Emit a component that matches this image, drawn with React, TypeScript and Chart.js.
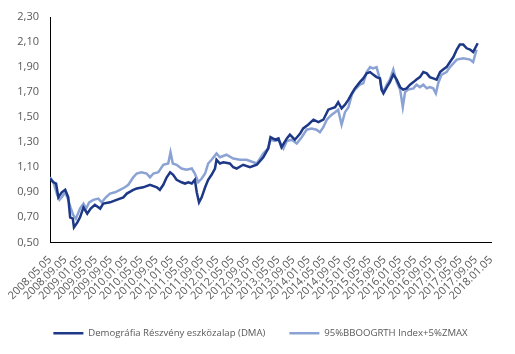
import React, { useEffect, useRef } from "react";
import { Chart, registerables } from "chart.js";

Chart.register(...registerables);

// Axis ticks: x values are months since 2008.05.05
const tickLabels = [
  "2008.05.05", "2008.09.05", "2009.01.05", "2009.05.05", "2009.09.05",
  "2010.01.05", "2010.05.05", "2010.09.05", "2011.01.05", "2011.05.05",
  "2011.09.05", "2012.01.05", "2012.05.05", "2012.09.05", "2013.01.05",
  "2013.05.05", "2013.09.05", "2014.01.05", "2014.05.05", "2014.09.05",
  "2015.01.05", "2015.05.05", "2015.09.05", "2016.01.05", "2016.05.05",
  "2016.09.05", "2017.01.05", "2017.05.05", "2017.09.05", "2018.01.05",
];
const tickStepMonths = 4;
const yTicks = [0.5, 0.7, 0.9, 1.1, 1.3, 1.5, 1.7, 1.9, 2.1, 2.3];

const seriesNames = [
  "Demográfia Részvény eszközalap (DMA)",
  "95%BBOOGRTH Index+5%ZMAX",
];

const dmaMonths = [
  0, 0.9, 1.6, 2.2, 3.1, 4.0, 4.8, 5.3, 6.0, 6.3, 7.2, 7.9, 8.8, 9.8, 10.7,
  11.8, 13.2, 14.0, 15.8, 17.5, 19.3, 20.2, 21.9, 22.8, 24.5, 26.3, 28.1,
  28.9, 29.8, 30.7, 31.6, 32.4, 33.3, 34.6, 35.5, 36.4, 37.3, 38.1, 38.6,
  39.2, 39.9, 40.8, 41.6, 42.5, 43.4, 43.8, 44.7, 45.6, 47.3, 48.2, 49.1,
  50.8, 52.6, 54.4, 56.1, 57.4, 58.0, 59.2, 60.1, 60.9, 62.3, 63.1, 64.4,
  65.8, 66.6, 67.9, 69.3, 70.6, 71.9, 73.2, 74.1, 75.0, 75.8, 76.7, 77.6,
  78.5, 79.4, 80.2, 81.5, 82.4, 83.3, 84.2, 85.0, 85.9, 86.8, 87.2, 87.7,
  88.6, 89.4, 90.3, 91.2, 92.1, 92.9, 93.8, 94.7, 95.6, 96.4, 97.3, 98.2,
  99.1, 99.9, 100.8, 101.7, 102.6, 103.4, 104.3, 105.2, 106.1, 107.0, 107.8,
  108.7, 109.6, 110.5, 111.3, 112.5,
];
const dmaValues = [
  1.01, 0.98, 0.97, 0.86, 0.9, 0.92, 0.86, 0.7, 0.69, 0.62, 0.66, 0.7, 0.78,
  0.73, 0.77, 0.8, 0.77, 0.81, 0.82, 0.84, 0.86, 0.89, 0.92, 0.93, 0.94,
  0.96, 0.94, 0.92, 0.96, 1.02, 1.06, 1.04, 1.0, 0.98, 0.97, 0.98, 0.97,
  1.0, 0.9, 0.82, 0.86, 0.94, 1.0, 1.04, 1.09, 1.16, 1.13, 1.14, 1.13, 1.1,
  1.09, 1.12, 1.1, 1.12, 1.18, 1.25, 1.34, 1.32, 1.33, 1.26, 1.33, 1.36,
  1.32, 1.37, 1.41, 1.44, 1.48, 1.46, 1.48, 1.56, 1.57, 1.58, 1.62, 1.57,
  1.6, 1.64, 1.69, 1.73, 1.78, 1.81, 1.85, 1.86, 1.84, 1.82, 1.81, 1.72,
  1.69, 1.74, 1.78, 1.84, 1.8, 1.74, 1.72, 1.73, 1.76, 1.78, 1.8, 1.82,
  1.86, 1.85, 1.82, 1.81, 1.8, 1.86, 1.88, 1.9, 1.94, 1.98, 2.04, 2.08,
  2.08, 2.05, 2.04, 2.02, 2.09,
];

const benchMonths = [
  0, 0.9, 1.9, 2.5, 3.1, 4.0, 4.8, 5.4, 6.1, 6.8, 7.9, 8.8, 9.5, 10.3, 11.4,
  12.7, 13.6, 14.7, 15.8, 17.1, 18.4, 19.7, 20.6, 21.9, 22.8, 24.1, 25.4,
  26.3, 27.2, 28.5, 29.8, 31.1, 31.7, 32.3, 33.3, 34.6, 35.9, 37.3, 38.1,
  39.0, 39.9, 40.8, 41.6, 42.5, 43.8, 44.7, 46.4, 48.2, 50.0, 51.7, 53.5,
  54.4, 56.1, 57.4, 58.0, 59.2, 60.1, 61.4, 62.3, 63.6, 64.9, 66.2, 67.5,
  68.8, 70.1, 71.0, 71.9, 72.8, 74.1, 75.0, 75.8, 76.7, 77.6, 78.5, 79.4,
  80.2, 81.5, 82.4, 83.3, 84.2, 85.0, 85.9, 86.8, 87.2, 87.7, 88.6, 89.4,
  90.3, 91.2, 92.1, 92.8, 93.4, 94.2, 95.6, 96.4, 97.3, 98.2, 99.1, 99.9,
  100.8, 101.5, 102.1, 103.0, 104.3, 105.2, 106.1, 107.0, 108.7, 110.5,
  111.3, 112.2,
];
const benchValues = [
  1.02, 0.98, 0.88, 0.84, 0.86, 0.9, 0.84, 0.78, 0.72, 0.69, 0.77, 0.81,
  0.77, 0.82, 0.84, 0.85, 0.82, 0.86, 0.89, 0.9, 0.92, 0.94, 0.96, 1.02,
  1.05, 1.06, 1.05, 1.02, 1.05, 1.06, 1.12, 1.13, 1.22, 1.13, 1.12, 1.09,
  1.08, 1.09, 1.05, 0.98, 1.01, 1.05, 1.13, 1.16, 1.21, 1.18, 1.2, 1.17,
  1.16, 1.16, 1.14, 1.13, 1.21, 1.25, 1.32, 1.31, 1.32, 1.25, 1.31, 1.32,
  1.29, 1.34, 1.4, 1.41, 1.4, 1.38, 1.42, 1.48, 1.52, 1.54, 1.56, 1.44,
  1.54, 1.58, 1.68, 1.72, 1.76, 1.77, 1.86, 1.9, 1.89, 1.9, 1.8, 1.74, 1.7,
  1.76, 1.8, 1.88, 1.78, 1.72, 1.58, 1.7, 1.72, 1.73, 1.76, 1.74, 1.76,
  1.73, 1.74, 1.73, 1.69, 1.77, 1.84, 1.86, 1.9, 1.93, 1.96, 1.97, 1.96,
  1.94, 2.04,
];

const FONT = "'Open Sans', 'Noto Sans', sans-serif";
const TEXT = "#595959";

const shiftLegend = {
  id: "shiftLegend",
  afterLayout(chart: any) {
    const lg = chart.legend;
    if (lg) {
      lg.left += 10;
      lg.right += 10;
    }
  },
};

export default function App() {
  const ref = useRef<HTMLCanvasElement>(null);

  useEffect(() => {
    document.body.style.margin = "0";
    const canvas = ref.current;
    if (!canvas) return;
    const chart = new Chart(canvas, {
      type: "line",
      data: {
        datasets: [
          {
            label: seriesNames[0],
            data: dmaMonths.map((m, i) => ({ x: m, y: dmaValues[i] })),
            borderColor: "#1c3886",
            backgroundColor: "#1c3886",
            borderWidth: 2.5,
            pointRadius: 0,
            tension: 0,
          },
          {
            label: seriesNames[1],
            data: benchMonths.map((m, i) => ({ x: m, y: benchValues[i] })),
            borderColor: "#8aa3d4",
            backgroundColor: "#8aa3d4",
            borderWidth: 2.5,
            pointRadius: 0,
            tension: 0,
          },
        ],
      },
      plugins: [shiftLegend],
      options: {
        responsive: false,
        animation: false,
        events: [],
        layout: { padding: { top: 17, left: 10, right: 24, bottom: 6 } },
        plugins: {
          tooltip: { enabled: false },
          legend: {
            position: "bottom",
            labels: {
              usePointStyle: true,
              pointStyle: "line",
              pointStyleWidth: 30,
              padding: 24,
              color: TEXT,
              font: { family: FONT, size: 9.6 },
            },
          },
        },
        scales: {
          x: {
            type: "linear",
            min: 0,
            max: (tickLabels.length - 1) * tickStepMonths,
            grid: { display: false },
            border: { display: true, color: "#000", width: 1 },
            afterBuildTicks: (scale: any) => {
              scale.ticks = tickLabels.map((_, i) => ({ value: i * tickStepMonths }));
            },
            ticks: {
              autoSkip: false,
              minRotation: 45,
              maxRotation: 45,
              padding: 3,
              color: TEXT,
              font: { family: FONT, size: 11 },
              callback: (v: any) => tickLabels[Math.round(Number(v) / tickStepMonths)] ?? "",
            },
            afterFit: (scale: any) => {
              scale.height = 62;
            },
          },
          y: {
            min: 0.5,
            max: 2.3,
            grid: { display: false },
            border: { display: true, color: "#000", width: 1 },
            afterBuildTicks: (scale: any) => {
              scale.ticks = yTicks.map((v) => ({ value: v }));
            },
            ticks: {
              padding: 3,
              color: TEXT,
              font: { family: FONT, size: 11 },
              callback: (v: any) => Number(v).toFixed(2).replace(".", ","),
            },
            afterFit: (scale: any) => {
              scale.width = 40;
            },
          },
        },
      },
    } as any);
    return () => chart.destroy();
  }, []);

  return (
    <div style={{ width: 515, height: 354 }}>
      <canvas ref={ref} width={515} height={354} style={{ display: "block" }} />
    </div>
  );
}
